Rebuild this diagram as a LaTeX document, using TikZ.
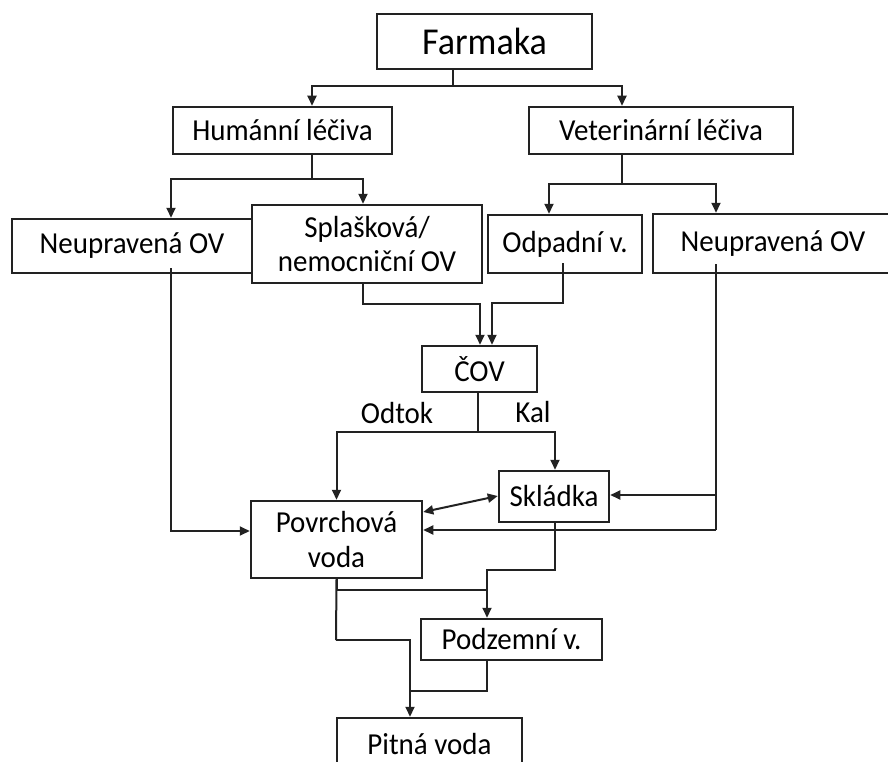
\documentclass[tikz,border=0pt]{standalone}
\usepackage{fontspec}
\setmainfont{Carlito}[FakeStretch=0.95]
\usetikzlibrary{arrows.meta}
\definecolor{ink}{HTML}{222222}
\tikzset{
  box/.style={draw=ink, line width=2.5pt, inner sep=0pt, align=center,
    font=\fontsize{30.5pt}{34.5pt}\selectfont, text=black},
  conn/.style={draw=ink, line width=2pt},
  arr/.style={conn, -{Triangle[length=10pt,width=9pt]}},
  darr/.style={conn, {Triangle[length=10pt,width=9pt]}-{Triangle[length=10pt,width=9pt]}},
  lbl/.style={font=\fontsize{30.5pt}{34.5pt}\selectfont, inner sep=0pt}
}
\begin{document}
\begin{tikzpicture}[x=1pt,y=-1pt]
\useasboundingbox (0,0) rectangle (888,762);
\clip (0,0) rectangle (888,762);
\fill[white] (0,0) rectangle (888,762);
% boxes
\node[box, minimum width=215pt, minimum height=55pt, font=\fontsize{38pt}{42pt}\selectfont] (farm) at (484.5,41.5) {Farmaka};
\node[box, minimum width=219pt, minimum height=47pt] (hum) at (282.5,130.5) {Humánní léčiva};
\node[box, minimum width=264pt, minimum height=47pt] (vet) at (661,130.5) {Veterinární léčiva};
\node[box, minimum width=240pt, minimum height=54pt] (neu1) at (132,246) {Neupravená OV};
\node[box, minimum width=230pt, minimum height=78pt] (spl) at (367,244) {Splašková/\\nemocniční OV};
\node[box, minimum width=154pt, minimum height=58pt] (odp) at (565,244) {Odpadní v.};
\node[box, minimum width=240pt, minimum height=59pt] (neu2) at (773,243.5) {Neupravená OV};
\node[box, minimum width=115pt, minimum height=46pt] (cov) at (479.5,369) {ČOV};
\node[box, minimum width=110pt, minimum height=51pt] (skl) at (554,496.5) {Skládka};
\node[box, minimum width=171pt, minimum height=77pt] (pov) at (336.5,539.5) {Povrchová\\voda};
\node[box, minimum width=181pt, minimum height=41pt] (pod) at (511.5,639.5) {Podzemní v.};
\node[box, minimum width=185pt, minimum height=52pt] (pit) at (429.5,744) {Pitná voda};
% labels
\node[lbl] (odtok) at (397,413) {Odtok};
\node[lbl] (kal) at (533,412) {Kal};
% junctions
\coordinate (j1) at (453,86);
\coordinate (j2) at (312,179);
\coordinate (j3) at (622,184);
\coordinate (j4) at (478,432);
\coordinate (j5) at (716,495);
\coordinate (j6) at (716,530);
\coordinate (j7) at (487,590);
\coordinate (j8) at (336,640);
\coordinate (j9) at (410,691);
% Farmaka
\draw[conn] (farm.south -| j1) -- (j1);
\draw[arr] (j1) -| ([xshift=29.5pt]hum.north);
\draw[arr] (j1) -| ([xshift=-39pt]vet.north);
% Humanni
\draw[conn] (hum.south -| j2) -- (j2);
\draw[arr] (j2) -| ([xshift=39pt]neu1.north);
\draw[arr] (j2) -| ([xshift=-4pt]spl.north);
% Veterinarni
\draw[conn] (vet.south -| j3) -- (j3);
\draw[arr] (j3) -| ([xshift=-16pt]odp.north);
\draw[arr] (j3) -| ([xshift=-57pt]neu2.north);
% to COV
\draw[arr] ([xshift=-4pt]spl.south) |- (480,304) -- ([xshift=0.5pt]cov.north);
\draw[arr] ([xshift=-2pt,yshift=11pt]odp.south) |- (492,303) -- ([xshift=12.5pt]cov.north);
% Neupravena 1 -> Povrchova
\draw[arr] ([xshift=39pt,yshift=6pt]neu1.south) |- ([yshift=8.5pt]pov.west);
% COV outputs
\draw[conn] (cov.south -| j4) -- (j4);
\draw[arr] (j4) -| (pov.north);
\draw[arr] (j4) -| ([xshift=1pt]skl.north);
% Neupravena 2 -> Skladka, Povrchova
\draw[conn] ([xshift=-57pt,yshift=10pt]neu2.south) -- (j6);
\draw[arr] (j5) -- (skl.east |- j5);
\draw[arr] (j6) -- (pov.east |- j6);
% Povrchova <-> Skladka
\draw[darr] ([yshift=27.5pt]pov.east) -- ([yshift=0.5pt]skl.west);
% Skladka -> Podzemni
\draw[arr] ([xshift=1pt]skl.south) |- (487,570) -- ([xshift=-24.5pt]pod.north);
% Povrchova -> Podzemni, Pitna
\draw[conn] (pov.south) |- (j7);
\draw[conn] (pov.south) -- (j8);
\draw[arr] (j8) -| ([xshift=-19.5pt]pit.north);
% Podzemni -> Pitna
\draw[conn] ([xshift=-24.5pt]pod.south) |- (j9);
\end{tikzpicture}
\end{document}
